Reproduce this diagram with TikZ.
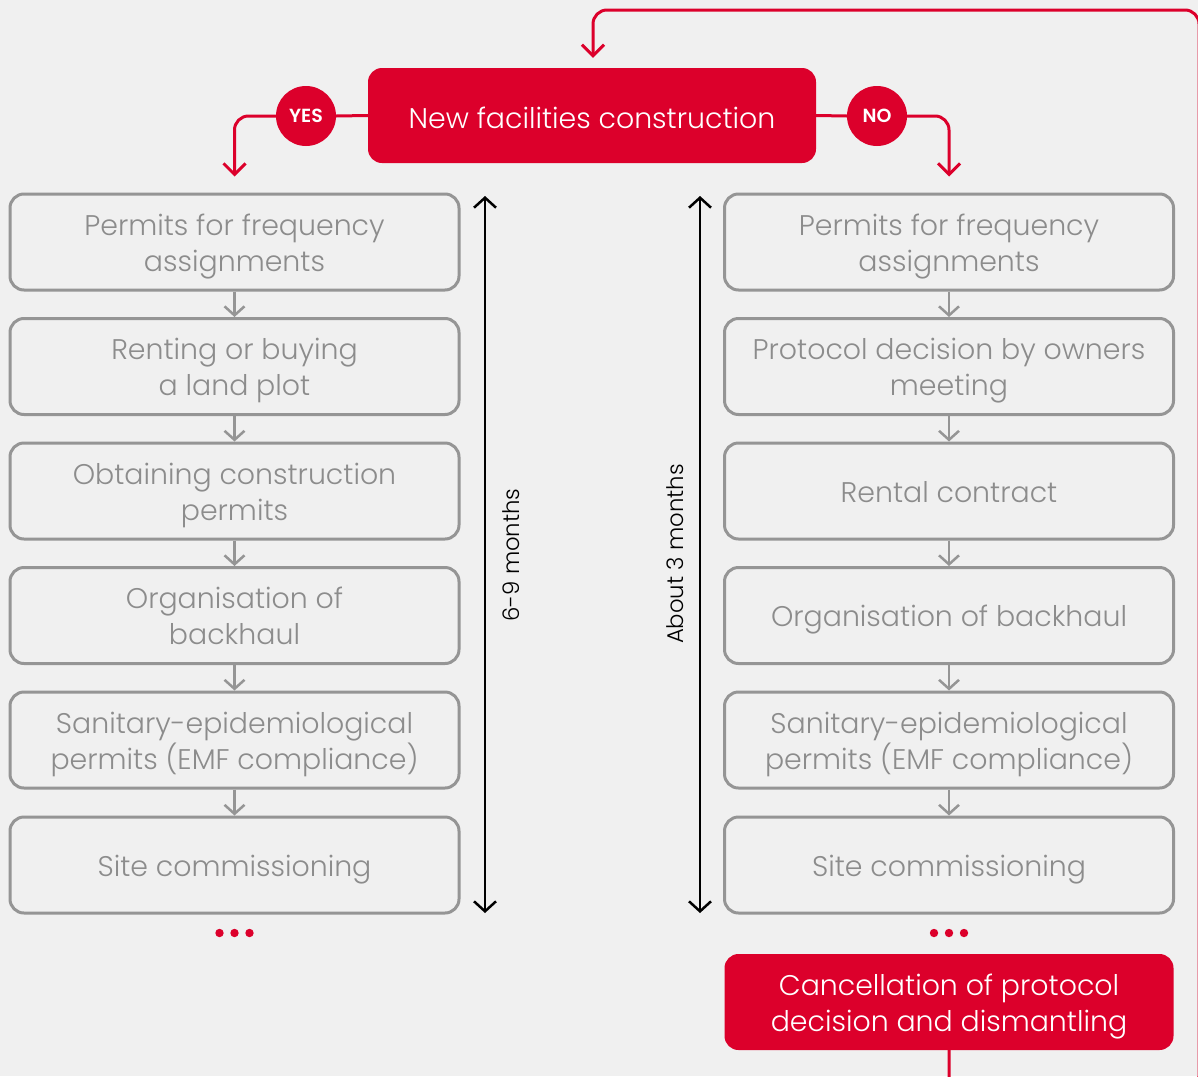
\documentclass[tikz,border=0pt]{standalone}
\usepackage{fontspec}
\setmainfont{Poppins}[UprightFont=* Light, BoldFont=* SemiBold]
\usetikzlibrary{arrows.meta}
\definecolor{bg}{HTML}{F0F0F0}
\definecolor{brand}{HTML}{DC002B}
\definecolor{frame}{HTML}{959595}
\definecolor{label}{HTML}{8C8C8C}
% uniform line strut: every text line gets the same height and depth
\newcommand{\ls}{\rule[-9pt]{0pt}{40pt}}
\newcommand{\lstop}{\rule[-9pt]{0pt}{43pt}}
% fixed 36pt line pitch, whatever the strut sizes
\newcommand{\boxfont}{\fontsize{28.4}{36}\selectfont\lineskiplimit=-30pt\relax}
\tikzset{
  stepbox/.style={draw=frame, line width=3pt, rounded corners=14pt,
    minimum width=449pt, minimum height=96pt, inner sep=0pt,
    text=label, align=center, font=\boxfont},
  redbox/.style={fill=brand, rounded corners=14pt, minimum width=449pt,
    minimum height=96pt, inner sep=0pt, text=white, align=center,
    font=\boxfont},
  badge/.style={circle, fill=brand, minimum size=60pt, inner sep=0pt,
    text=white, font=\fontsize{19}{20}\selectfont\bfseries},
  flow/.style={draw=frame, line width=2.5pt,
    -{Straight Barb[length=9pt,width=20pt,line width=2.5pt]}},
  redline/.style={draw=brand, line width=3pt},
  redarrow/.style={redline, rounded corners=14pt,
    -{Straight Barb[length=11pt,width=22pt,line width=3pt]}},
  span/.style={draw=black, line width=2.5pt,
    {Straight Barb[length=10pt,width=22pt,line width=2.5pt]}-{Straight Barb[length=10pt,width=22pt,line width=2.5pt]}},
  spanlabel/.style={rotate=90, font=\fontsize{22.8}{28}\selectfont, text=black},
  dot/.style={fill=brand}
}
\begin{document}
\begin{tikzpicture}[x=1pt,y=-1pt]
\useasboundingbox (0,0) rectangle (1198,1076);
\fill[bg] (0,0) rectangle (1198,1076);

% top decision
\node[redbox, minimum width=448pt, minimum height=95pt] (top) at (592,115.5) {\lstop New facilities construction};
\node[badge] (yes) at (306,116) {YES};
\node[badge] (no) at (877,116) {NO};

% left branch
\node[stepbox] (l1) at (234.5,242) {\ls Permits for frequency\\\ls assignments};
\node[stepbox] (l2) at (234.5,366.5) {\ls Renting or buying\\\ls a land plot};
\node[stepbox] (l3) at (234.5,491) {\ls Obtaining construction\\\ls permits};
\node[stepbox] (l4) at (234.5,615.5) {\ls Organisation of\\\ls backhaul};
\node[stepbox] (l5) at (234.5,740) {\ls Sanitary-epidemiological\\\ls permits (EMF compliance)};
\node[stepbox] (l6) at (234.5,865) {\ls Site commissioning};

% right branch
\node[stepbox] (r1) at (949,242) {\ls Permits for frequency\\\ls assignments};
\node[stepbox] (r2) at (949,366.5) {\ls Protocol decision by owners\\\ls meeting};
\node[stepbox] (r3) at (949,491) {\ls Rental contract};
\node[stepbox] (r4) at (949,615.5) {\ls Organisation of backhaul};
\node[stepbox] (r5) at (949,740) {\ls Sanitary-epidemiological\\\ls permits (EMF compliance)};
\node[stepbox] (r6) at (949,865) {\ls Site commissioning};
\node[redbox] (cancel) at (949,1002) {\ls Cancellation of protocol\\\ls decision and dismantling};

% step arrows
\foreach \a/\b in {l1/l2,l2/l3,l3/l4,l4/l5,l5/l6,r1/r2,r2/r3,r3/r4,r4/r5,r5/r6}
  \draw[flow] (\a.south) -- (\b.north);

% decision branches
\draw[redline] (top.west) -- (yes.east);
\draw[redline] (top.east) -- (no.west);
\draw[redarrow, shorten >=16pt] (yes.west) -| (l1.north);
\draw[redarrow, shorten >=16pt] (no.east) -| (r1.north);

% loop back from cancellation
\begin{scope}
\clip (0,0) rectangle (1198,1076);
\coordinate (loopA) at (949,1090);
\coordinate (loopB) at (1199,1090);
\coordinate (loopC) at (1199,10);
\coordinate (loopD) at (593,10);
\draw[redarrow, shorten >=10pt] (cancel.south) -- (loopA) -- (loopB) -- (loopC) -- (loopD) -- (top.north -| loopD);
\end{scope}

% duration spans
\coordinate (sLt) at (485,196);
\coordinate (sLb) at (485,913);
\coordinate (sRt) at (700,196);
\coordinate (sRb) at (700,913);
\draw[span] (sLt) -- (sLb);
\draw[span] (sRt) -- (sRb);
\node[spanlabel] (dL) at (511,555) {6-9 months};
\node[spanlabel] (dR) at (675,554) {About 3 months};

% continuation dots
\foreach \x in {219.5,234.5,249.5} \fill[dot] (\x,933) circle (4.2pt);
\foreach \x in {934,949,964} \fill[dot] (\x,933) circle (4.2pt);
\end{tikzpicture}
\end{document}
